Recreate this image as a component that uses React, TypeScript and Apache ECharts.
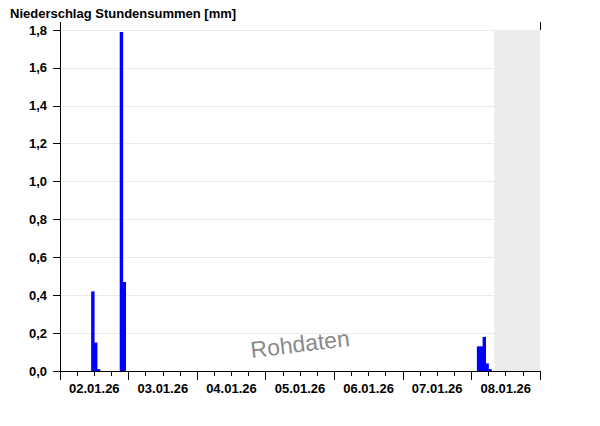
import React, { useEffect, useRef } from "react";
import * as echarts from "echarts";

// hours since 02.01.26 00:00 (bar centres) and hourly precipitation sums [mm]
const barHours = [11.5, 12.5, 13.5, 21.5, 22.5, 146.5, 147.5, 148.5, 149.5, 150.5];
const barValues = [0.42, 0.15, 0.01, 1.79, 0.47, 0.13, 0.13, 0.18, 0.04, 0.01];
const dayLabels = ["02.01.26", "03.01.26", "04.01.26", "05.01.26", "06.01.26", "07.01.26", "08.01.26"];
const xMin = 0;
const xMax = 168;
const futureStart = 152; // 08.01.26 08:00
const yMax = 1.8;
const yStep = 0.2;

const FONT = "Liberation Sans, Arial, sans-serif";

export default function App() {
  const ref = useRef<HTMLDivElement>(null);
  useEffect(() => {
    document.body.style.margin = "0";
    if (!ref.current) return;
    const chart = echarts.init(ref.current, null, { renderer: "svg" });
    const gLeft = 60, gRight = 60, gTop = 30, gBottom = 55;
    chart.setOption({
      animation: false,
      backgroundColor: "#ffffff",
      title: {
        text: "Niederschlag Stundensummen [mm]",
        left: 5,
        top: 2,
        textStyle: { fontFamily: FONT, fontSize: 13, fontWeight: "bold", color: "#000" },
      },
      grid: { left: gLeft, right: gRight, top: gTop, bottom: gBottom },
      xAxis: [
        {
          type: "value",
          min: xMin,
          max: xMax,
          interval: 24,
          axisLine: { show: true, lineStyle: { color: "#000", width: 1 } },
          axisTick: { show: true, length: 9, lineStyle: { color: "#000" } },
          minorTick: { show: true, splitNumber: 4, length: 5, lineStyle: { color: "#000" } },
          axisLabel: { show: false },
          splitLine: { show: false },
        },
        {
          type: "value",
          position: "bottom",
          min: xMin,
          max: xMax,
          interval: 12,
          axisLine: { show: false },
          axisTick: { show: false },
          splitLine: { show: false },
          axisLabel: {
            show: true,
            margin: 11,
            fontFamily: FONT,
            fontSize: 13,
            fontWeight: "bold",
            color: "#000",
            formatter: (v: number) => (v % 24 === 12 ? dayLabels[Math.floor(v / 24)] : ""),
          },
        },
      ],
      yAxis: [
        {
          type: "value",
          min: 0,
          max: yMax,
          interval: yStep,
          axisLine: { show: true, lineStyle: { color: "#000", width: 1 } },
          axisTick: { show: true, length: 7, lineStyle: { color: "#000" } },
          axisLabel: {
            margin: 13,
            fontFamily: FONT,
            fontSize: 13,
            fontWeight: "bold",
            color: "#000",
            formatter: (v: number) => v.toFixed(1).replace(".", ","),
          },
          splitLine: { show: true, lineStyle: { color: "#ebebeb", width: 1 } },
        },
        {
          type: "value",
          position: "right",
          min: 0,
          max: yMax,
          interval: yStep,
          axisLine: { show: true, lineStyle: { color: "#000", width: 1 } },
          axisTick: { show: false },
          axisLabel: { show: false },
          splitLine: { show: false },
        },
      ],
      series: [
        {
          type: "bar",
          xAxisIndex: 0,
          yAxisIndex: 0,
          barWidth: 3.4,
          barGap: "-100%",
          itemStyle: { color: "#0000ff" },
          data: barHours.map((h, i) => [h, barValues[i]]),
          markArea: {
            silent: true,
            itemStyle: { color: "#ececec" },
            data: [[{ xAxis: futureStart }, { xAxis: xMax }]],
          },
        },
      ],
      graphic: [
        {
          type: "line",
          shape: { x1: gLeft + 0.5, y1: 22, x2: gLeft + 0.5, y2: gTop },
          style: { stroke: "#000", lineWidth: 1 },
        },
        {
          type: "line",
          shape: { x1: 600 - gRight + 0.5, y1: 22, x2: 600 - gRight + 0.5, y2: gTop },
          style: { stroke: "#000", lineWidth: 1 },
        },
        {
          type: "text",
          x: 300,
          y: 344,
          rotation: 0.12,
          style: {
            text: "Rohdaten",
            fontFamily: FONT,
            fontSize: 23,
            fill: "#8a8a8a",
            align: "center",
            verticalAlign: "middle",
          },
        },
      ],
    });
    return () => chart.dispose();
  }, []);
  return <div ref={ref} style={{ width: 600, height: 426 }} />;
}
